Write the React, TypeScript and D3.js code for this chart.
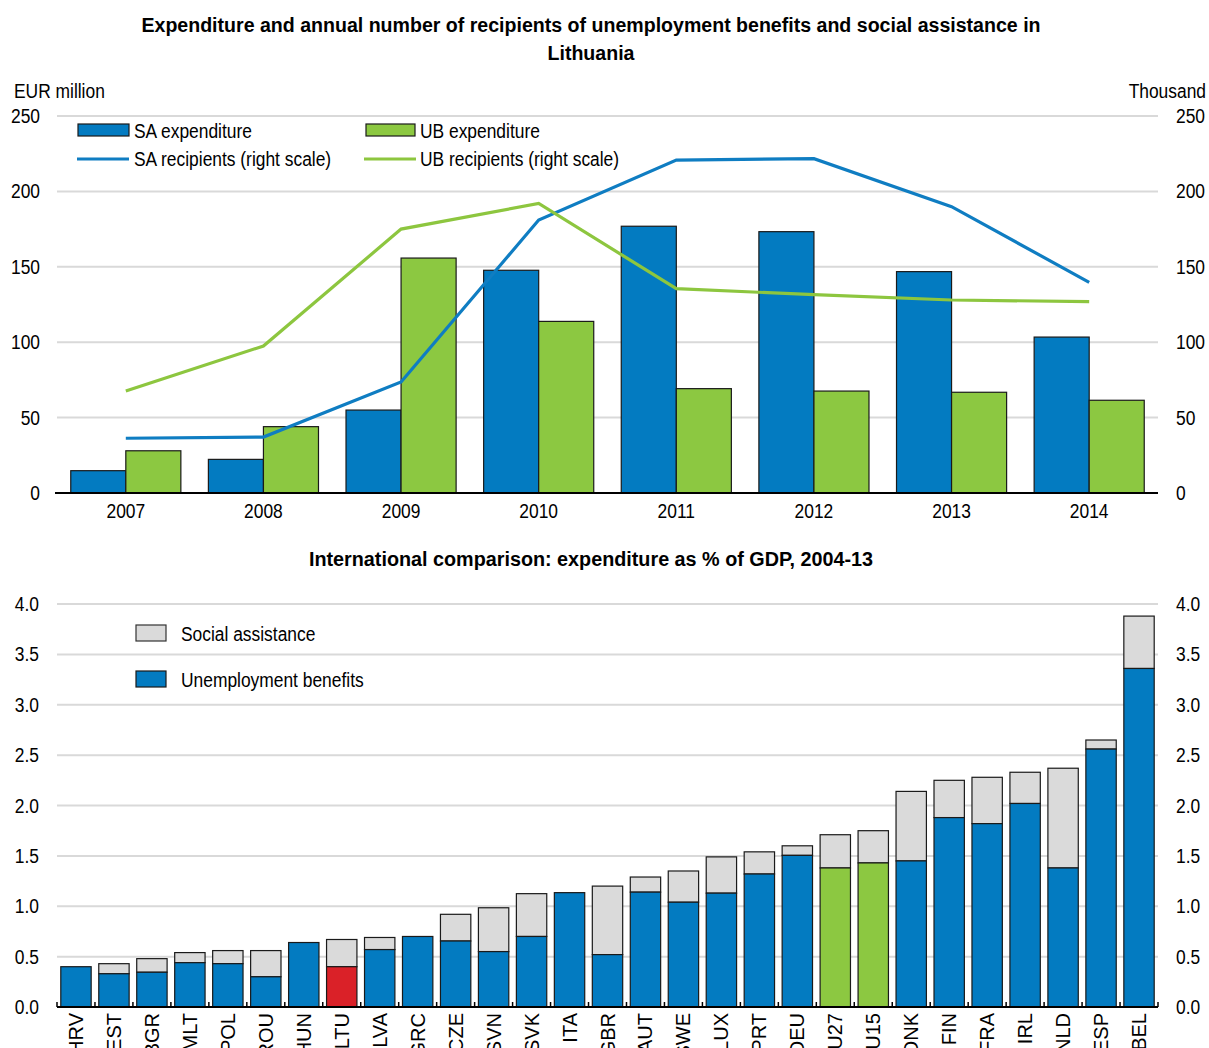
import React from "react";
import * as d3 from "d3";

const years = ["2007", "2008", "2009", "2010", "2011", "2012", "2013", "2014"];
const saExpenditure = [14.8, 22.3, 55, 147.7, 176.9, 173.3, 146.8, 103.4];
const ubExpenditure = [28, 44, 155.8, 113.8, 69.2, 67.6, 66.8, 61.5];
const saRecipients = [36.3, 37.1, 73.6, 181, 220.8, 221.7, 189.9, 139.7];
const ubRecipients = [67.6, 97.5, 175, 192, 135.5, 131.5, 128, 126.9];
const topTicks = [0, 50, 100, 150, 200, 250];

const countries = ["HRV", "EST", "BGR", "MLT", "POL", "ROU", "HUN", "LTU", "LVA", "GRC", "CZE", "SVN", "SVK", "ITA", "GBR", "AUT", "SWE", "LUX", "PRT", "DEU", "EU27", "EU15", "DNK", "FIN", "FRA", "IRL", "NLD", "ESP", "BEL"];
const unemploymentBenefits = [0.40, 0.33, 0.345, 0.44, 0.43, 0.30, 0.64, 0.40, 0.57, 0.70, 0.655, 0.55, 0.70, 1.135, 0.52, 1.14, 1.04, 1.13, 1.32, 1.505, 1.38, 1.43, 1.45, 1.88, 1.82, 2.02, 1.38, 2.56, 3.36];
const totalExpenditure = [0.40, 0.43, 0.48, 0.54, 0.56, 0.56, 0.64, 0.67, 0.69, 0.70, 0.92, 0.985, 1.125, 1.135, 1.20, 1.29, 1.35, 1.49, 1.54, 1.60, 1.71, 1.75, 2.14, 2.25, 2.28, 2.33, 2.37, 2.65, 3.88];
const bottomTicks = [0, 0.5, 1, 1.5, 2, 2.5, 3, 3.5, 4];

const BLUE = "#037BC1";
const GREEN = "#8CC841";
const GREY = "#DADADA";
const RED = "#DA2128";
const LINE_BLUE = "#0F7DC2";
const LINE_GREEN = "#8DC63F";
const FONT = "'Liberation Sans Narrow', 'Arial Narrow', 'Liberation Sans', Arial, sans-serif";

type TProps = { x: number; y: number; anchor?: "start" | "middle" | "end"; children: React.ReactNode; size?: number; sx?: number; bold?: boolean };
function T({ x, y, anchor = "start", children, size = 20, sx = 0.87, bold = false }: TProps) {
  return (
    <text transform={`translate(${x},${y}) scale(${sx},1)`} textAnchor={anchor}
      style={{ fontFamily: FONT, fontSize: size, fill: "#000", fontWeight: bold ? "bold" : "normal" }}>
      {children}
    </text>
  );
}

export default function App() {
  const X0 = 57, X1 = 1158;
  // top chart
  const xTop = d3.scaleBand<string>().domain(years).range([X0, X1]).paddingInner(0.2).paddingOuter(0.1);
  const xSub = d3.scaleBand<string>().domain(["sa", "ub"]).range([0, xTop.bandwidth()]);
  const yTop = d3.scaleLinear().domain([0, 250]).range([493, 116]);
  const yTopR = d3.scaleLinear().domain([0, 250]).range([493, 116]);
  const lineGen = d3.line<number>()
    .x((_, i) => (xTop(years[i]) as number) + xTop.bandwidth() / 2)
    .y((d) => yTopR(d));

  // bottom chart
  const xBot = d3.scaleBand<string>().domain(countries).range([X0, X1]).paddingInner(0.2).paddingOuter(0.1);
  const yBot = d3.scaleLinear().domain([0, 4]).range([1007, 604]);
  const step = xBot.step();

  return (
    <svg width={1209} height={1048} style={{ position: "absolute", left: 0, top: 0, display: "block" }}>
      <rect width={1209} height={1048} fill="#fff" />
      {/* Titles */}
      <T x={591} y={32} anchor="middle" size={20.5} sx={0.955} bold>
        Expenditure and annual number of recipients of unemployment benefits and social assistance in
      </T>
      <T x={591} y={60} anchor="middle" size={20.5} sx={0.955} bold>Lithuania</T>
      <T x={591} y={566} anchor="middle" size={20.5} sx={0.965} bold>
        International comparison: expenditure as % of GDP, 2004-13
      </T>

      {/* Top chart */}
      <T x={14} y={98}>EUR million</T>
      <T x={1206} y={98} anchor="end">Thousand</T>
      {topTicks.map((t) => (
        <g key={"tt" + t}>
          {t > 0 && <line x1={X0} x2={X1} y1={yTop(t)} y2={yTop(t)} stroke="#D9D9D9" strokeWidth={2} />}
          <T x={40} y={yTop(t) + 7} anchor="end">{t}</T>
          <T x={1176} y={yTopR(t) + 7}>{t}</T>
        </g>
      ))}
      {years.map((yr, i) => {
        const bx = xTop(yr) as number;
        return (
          <g key={yr}>
            <rect x={bx + (xSub("sa") as number)} y={yTop(saExpenditure[i])} width={xSub.bandwidth()}
              height={yTop(0) - yTop(saExpenditure[i])} fill={BLUE} stroke="#1a1a1a" strokeWidth={1.2} />
            <rect x={bx + (xSub("ub") as number)} y={yTop(ubExpenditure[i])} width={xSub.bandwidth()}
              height={yTop(0) - yTop(ubExpenditure[i])} fill={GREEN} stroke="#1a1a1a" strokeWidth={1.2} />
            <T x={bx + xTop.bandwidth() / 2} y={518} anchor="middle">{yr}</T>
          </g>
        );
      })}
      <line x1={X0 - 2} x2={X1} y1={yTop(0)} y2={yTop(0)} stroke="#000" strokeWidth={2} />
      <path d={lineGen(saRecipients) || ""} fill="none" stroke={LINE_BLUE} strokeWidth={3.2} />
      <path d={lineGen(ubRecipients) || ""} fill="none" stroke={LINE_GREEN} strokeWidth={3.2} />

      {/* Top legend */}
      <rect x={78} y={124} width={51} height={12} fill={BLUE} stroke="#1a1a1a" strokeWidth={1.2} />
      <T x={134} y={138}>SA expenditure</T>
      <rect x={366} y={124} width={49} height={12} fill={GREEN} stroke="#1a1a1a" strokeWidth={1.2} />
      <T x={420} y={138}>UB expenditure</T>
      <line x1={77} x2={129} y1={159} y2={159} stroke={LINE_BLUE} strokeWidth={3.2} />
      <T x={134} y={166}>SA recipients (right scale)</T>
      <line x1={364} x2={416} y1={159} y2={159} stroke={LINE_GREEN} strokeWidth={3.2} />
      <T x={420} y={166}>UB recipients (right scale)</T>

      {/* Bottom chart */}
      {bottomTicks.map((t) => (
        <g key={"bt" + t}>
          {t > 0 && <line x1={X0} x2={X1} y1={yBot(t)} y2={yBot(t)} stroke="#D9D9D9" strokeWidth={2} />}
          <T x={39} y={yBot(t) + 7} anchor="end">{t.toFixed(1)}</T>
          <T x={1176} y={yBot(t) + 7}>{t.toFixed(1)}</T>
        </g>
      ))}
      {countries.map((c, i) => {
        const bx = xBot(c) as number;
        const ubColor = c === "LTU" ? RED : c === "EU27" || c === "EU15" ? GREEN : BLUE;
        const sa = totalExpenditure[i] - unemploymentBenefits[i];
        return (
          <g key={c}>
            {sa > 0.001 && (
              <rect x={bx} y={yBot(totalExpenditure[i])} width={xBot.bandwidth()}
                height={yBot(unemploymentBenefits[i]) - yBot(totalExpenditure[i])} fill={GREY} stroke="#1a1a1a" strokeWidth={1.2} />
            )}
            <rect x={bx} y={yBot(unemploymentBenefits[i])} width={xBot.bandwidth()}
              height={yBot(0) - yBot(unemploymentBenefits[i])} fill={ubColor} stroke="#1a1a1a" strokeWidth={1.2} />
            <text transform={`translate(${bx + xBot.bandwidth() / 2 + 7},1013) rotate(-90)`} textAnchor="end"
              style={{ fontFamily: FONT, fontSize: 20, fill: "#000" }}>{c}</text>
          </g>
        );
      })}
      <line x1={X0} x2={X1} y1={yBot(0)} y2={yBot(0)} stroke="#000" strokeWidth={2} />
      {d3.range(countries.length + 1).map((i) => {
        const x = (xBot(countries[0]) as number) + xBot.bandwidth() / 2 - step / 2 + i * step;
        return <line key={"tk" + i} x1={x} x2={x} y1={yBot(0)} y2={yBot(0) - 5} stroke="#000" strokeWidth={1.5} />;
      })}

      {/* Bottom legend */}
      <rect x={136} y={625} width={30} height={16} fill={GREY} stroke="#333" strokeWidth={1.2} />
      <T x={181} y={641}>Social assistance</T>
      <rect x={136} y={671} width={30} height={16} fill={BLUE} stroke="#1a1a1a" strokeWidth={1.2} />
      <T x={181} y={687}>Unemployment benefits</T>
    </svg>
  );
}
